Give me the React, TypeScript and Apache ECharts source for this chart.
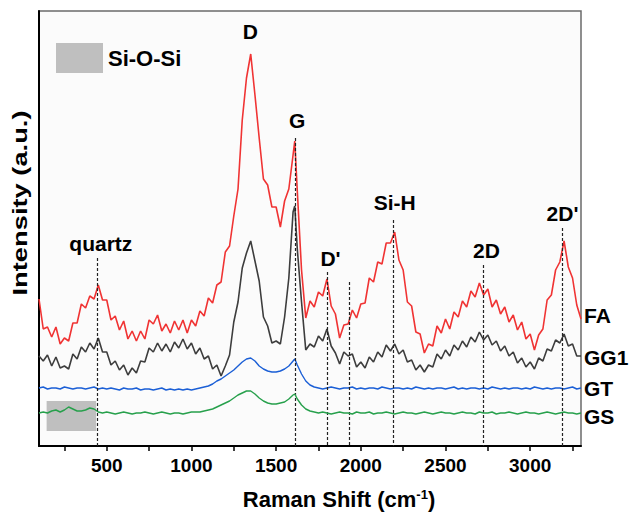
import React, { useEffect, useRef } from 'react';
import * as echarts from 'echarts';

// Raman shift grid (cm-1)
const ramanShift = [
  100, 125, 150, 175, 200, 225, 250, 275, 300, 325, 350, 375, 400, 425, 450, 475, 500, 525, 550, 575,
  600, 625, 650, 675, 700, 725, 750, 775, 800, 825, 850, 875, 900, 925, 950, 975, 1000, 1025, 1050, 1075,
  1100, 1125, 1150, 1175, 1200, 1225, 1250, 1275, 1300, 1325, 1350, 1375, 1400, 1425, 1450, 1475, 1500, 1525, 1550, 1575,
  1600, 1610, 1625, 1650, 1675, 1700, 1725, 1750, 1775, 1800, 1825, 1850, 1875, 1900, 1925, 1950, 1975, 2000, 2025, 2050,
  2075, 2100, 2125, 2150, 2175, 2200, 2225, 2250, 2275, 2300, 2325, 2350, 2375, 2400, 2425, 2450, 2475, 2500, 2525, 2550,
  2575, 2600, 2625, 2650, 2675, 2700, 2725, 2750, 2775, 2800, 2825, 2850, 2875, 2900, 2925, 2950, 2975, 3000, 3025, 3050,
  3075, 3100, 3125, 3150, 3175, 3200, 3225, 3250, 3275, 3300,
];

// Intensities (a.u., stacked offsets as in the figure)
const faValues = [
  147, 117, 119, 109, 119, 102, 108, 105, 123, 123, 142, 138, 150, 147, 161, 146, 146, 126, 130, 116,
  125, 107, 115, 105, 115, 107, 126, 122, 131, 115, 122, 113, 125, 116, 126, 113, 126, 120, 135, 130,
  148, 143, 161, 164, 194, 200, 230, 257, 326, 368, 392, 351, 308, 267, 261, 239, 239, 219, 245, 257,
  291, 305, 255, 176, 128, 145, 139, 154, 150, 167, 140, 132, 108, 121, 122, 136, 128, 142, 143, 168,
  164, 184, 182, 203, 203, 214, 186, 176, 144, 140, 114, 112, 93, 102, 100, 120, 113, 127, 117, 134,
  129, 145, 139, 155, 149, 163, 151, 157, 139, 146, 132, 139, 124, 131, 116, 124, 107, 112, 96, 111,
  117, 146, 151, 176, 184, 205, 179, 168, 141, 127,
];
const gg1Values = [
  90, 85, 91, 80, 89, 78, 80, 77, 92, 87, 99, 94, 103, 97, 108, 94, 94, 81, 85, 76,
  81, 71, 78, 73, 85, 84, 98, 94, 103, 95, 102, 94, 104, 98, 107, 97, 103, 92, 98, 87,
  90, 77, 81, 70, 80, 91, 124, 144, 178, 193, 205, 185, 165, 129, 120, 103, 105, 102, 129, 168,
  234, 240, 197, 144, 96, 102, 99, 110, 105, 117, 100, 93, 82, 94, 90, 92, 79, 84, 78, 89,
  84, 94, 89, 101, 95, 102, 92, 96, 84, 86, 76, 81, 74, 81, 79, 92, 87, 96, 90, 101,
  96, 105, 99, 109, 104, 114, 106, 111, 101, 105, 95, 100, 90, 94, 83, 88, 79, 84, 77, 88,
  85, 97, 95, 106, 103, 112, 100, 102, 90, 90,
];
const gtValues = [
  58, 59, 57, 58, 58, 57, 59, 58, 57, 58, 58, 57, 58, 59, 57, 58, 57, 58, 57, 56,
  58, 57, 57, 58, 56, 57, 57, 56, 57, 58, 56, 57, 56, 57, 56, 57, 56,
  57, 58, 59, 60, 62, 65, 67, 70, 73, 76, 80, 84, 87, 88, 85, 80, 77, 75, 74, 74,
  75, 77, 80, 85, 87, 81, 72, 65, 61, 59, 58,
  57, 58, 59, 58, 57, 58, 58, 59, 57, 58, 57, 58, 58, 57, 59, 58, 57, 58, 58, 57,
  58, 57, 59, 58, 57, 58, 57, 58, 58, 57, 58, 59, 57, 58, 57, 58, 58, 57, 58, 57,
  59, 58, 57, 58, 57, 58, 58, 57, 58, 57, 59, 58, 57, 58, 57, 58, 58, 57, 58, 59,
  57, 58,
];
const gsValues = [
  33, 34, 33, 35, 36, 34, 36, 39, 37, 35, 35, 36, 38, 37, 34, 33, 34,
  33, 32, 33, 34, 33, 32, 33, 33, 34, 33, 32, 33, 34, 33, 32, 33, 33, 32, 33, 34,
  34, 34, 35, 36, 37, 39, 41, 43, 45, 48, 51, 53, 55, 55, 52, 48, 45, 43, 42, 42,
  43, 44, 47, 51, 52, 47, 41, 37, 35, 34,
  33, 34, 33, 32, 33, 34, 33, 33, 32, 34, 33, 33, 34, 32, 33, 33, 34, 33, 32, 33,
  34, 33, 33, 32, 33, 34, 33, 32, 33, 34, 33, 33, 32, 33, 34, 33, 33, 32, 34, 33,
  33, 34, 32, 33, 33, 34, 33, 32, 33, 34, 33, 33, 32, 33, 34, 33, 32, 33, 34, 33,
  33, 32, 33,
];

// Axis ticks
const tickLabels = [500, 1000, 1500, 2000, 2500, 3000];
const tickMarks = [250, 500, 750, 1000, 1250, 1500, 1750, 2000, 2250, 2500, 2750, 3000, 3250];

// Peak annotations
const peakNames = ['D', 'G', 'quartz', "D'", 'Si-H', '2D', "2D'"];
const peakLabelX = [1348, 1624, 465, 1821, 2200, 2742, 3191];
const peakLabelY = [415, 326, 203, 188, 244, 196, 233];

// Dashed reference lines
const lineX = [441, 1614, 1803, 1930, 2190, 2722, 3188];
const lineTop = [188, 308, 174, 164, 226, 181, 218];

// Si-O-Si shaded region
const siOSiX = [145, 437];
const siOSiY = [15, 45];

const seriesNames = ['FA', 'GG1', 'GT', 'GS'];

export default function App() {
  const ref = useRef<HTMLDivElement>(null);
  useEffect(() => {
    const chart = echarts.init(ref.current as HTMLDivElement, null, { renderer: 'svg' });
    const pairs = (v: number[]) => ramanShift.map((x, i) => [x, v[i]]);
    const font = 'Liberation Sans, Arial, Helvetica, sans-serif';
    const endLabel = (name: string, dy: number) => ({
      show: true,
      formatter: name,
      distance: 3,
      offset: [0, dy],
      fontSize: 21,
      fontWeight: 'bold',
      color: '#000',
      fontFamily: font,
    });
    chart.setOption({
      animation: false,
      backgroundColor: '#ffffff',
      grid: {
        left: 39,
        top: 11,
        right: 49,
        bottom: 69,
        show: true,
        borderColor: '#6b6b6b',
        borderWidth: 1.5,
        backgroundColor: '#fbfbfb',
      },
      legend: {
        data: ['Si-O-Si'],
        left: 56,
        top: 43,
        padding: 0,
        itemWidth: 47,
        itemHeight: 30,
        icon: 'rect',
        selectedMode: false,
        textStyle: { fontSize: 22, fontWeight: 'bold', color: '#000', fontFamily: font },
      },
      xAxis: {
        type: 'value',
        min: 100,
        max: 3300,
        axisLine: { show: true, onZero: false, lineStyle: { color: '#000', width: 2 } },
        axisTick: {
          show: true,
          inside: false,
          length: 5,
          customValues: tickMarks,
          lineStyle: { color: '#000', width: 1.5 },
        },
        axisLabel: {
          customValues: tickLabels,
          formatter: (v: number) => String(v),
          margin: 10,
          fontSize: 19,
          fontWeight: 'bold',
          color: '#000',
          fontFamily: font,
        },
        splitLine: { show: false },
      },
      yAxis: {
        type: 'value',
        min: 0,
        max: 435,
        axisLine: { show: true, lineStyle: { color: '#000', width: 2 } },
        axisTick: { show: false },
        axisLabel: { show: false },
        splitLine: { show: false },
      },
      series: [
        {
          name: 'Si-O-Si',
          type: 'line',
          data: [],
          z: 1,
          color: '#bfbfbf',
          itemStyle: { color: '#bfbfbf' },
          lineStyle: { color: '#bfbfbf' },
          markArea: {
            silent: true,
            itemStyle: { color: '#bfbfbf', opacity: 1 },
            data: [[{ coord: [siOSiX[0], siOSiY[1]] }, { coord: [siOSiX[1], siOSiY[0]] }]],
          },
        },
        {
          name: seriesNames[0],
          type: 'line',
          data: pairs(faValues),
          showSymbol: false,
          symbol: 'none',
          z: 2,
          lineStyle: { color: '#f03333', width: 1.6 },
          itemStyle: { color: '#f03333' },
          endLabel: endLabel('FA', -4),
        },
        {
          name: seriesNames[1],
          type: 'line',
          data: pairs(gg1Values),
          showSymbol: false,
          symbol: 'none',
          z: 3,
          lineStyle: { color: '#3d3d3d', width: 1.6 },
          itemStyle: { color: '#3d3d3d' },
          endLabel: endLabel('GG1', 1),
        },
        {
          name: seriesNames[2],
          type: 'line',
          data: pairs(gtValues),
          showSymbol: false,
          symbol: 'none',
          z: 4,
          lineStyle: { color: '#1b5fd6', width: 1.4 },
          itemStyle: { color: '#1b5fd6' },
          endLabel: endLabel('GT', 0),
        },
        {
          name: seriesNames[3],
          type: 'line',
          data: pairs(gsValues),
          showSymbol: false,
          symbol: 'none',
          z: 5,
          lineStyle: { color: '#27a04c', width: 1.4 },
          itemStyle: { color: '#27a04c' },
          endLabel: endLabel('GS', 3),
          markLine: {
            silent: true,
            symbol: ['none', 'none'],
            label: { show: false },
            lineStyle: { color: '#222', width: 1.2, type: [3, 2] },
            data: lineX.map((x, i) => [{ coord: [x, lineTop[i]] }, { coord: [x, 0] }]),
          },
        },
        {
          name: 'peaks',
          type: 'scatter',
          z: 6,
          symbolSize: 1,
          itemStyle: { color: 'rgba(0,0,0,0)', opacity: 1 },
          data: peakNames.map((n, i) => ({ name: n, value: [peakLabelX[i], peakLabelY[i]] })),
          label: {
            show: true,
            position: 'inside',
            formatter: '{b}',
            fontSize: 21,
            fontWeight: 'bold',
            color: '#000',
            opacity: 1,
            textBorderWidth: 0,
            fontFamily: font,
          },
        },
      ],
      graphic: [
        {
          type: 'text',
          x: 339,
          y: 499,
          style: {
            text: 'Raman Shift (cm{sup|-1})',
            fontSize: 22,
            fontWeight: 'bold',
            fontFamily: font,
            fill: '#000',
            align: 'center',
            verticalAlign: 'middle',
            textAlign: 'center',
            textVerticalAlign: 'middle',
            rich: {
              sup: { fontSize: 13, fontWeight: 'bold', fontFamily: font, verticalAlign: 'top', fill: '#000' },
            },
          },
        },
        {
          type: 'text',
          x: 20,
          y: 203,
          rotation: Math.PI / 2,
          scaleX: 1.3,
          style: {
            text: 'Intensity (a.u.)',
            fontSize: 21,
            fontWeight: 'bold',
            fontFamily: font,
            fill: '#000',
            align: 'center',
            verticalAlign: 'middle',
            textAlign: 'center',
            textVerticalAlign: 'middle',
          },
        },
      ],
    });
    return () => chart.dispose();
  }, []);
  return <div ref={ref} style={{ position: 'fixed', left: 0, top: 0, width: 630, height: 515 }} />;
}
